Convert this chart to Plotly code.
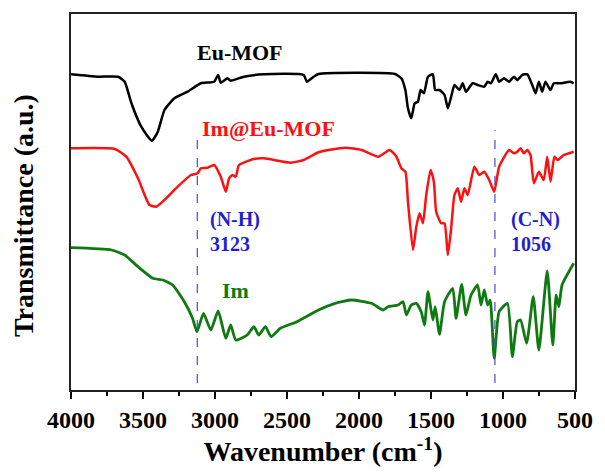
import plotly.graph_objects as go

# ---- data (wavenumber in cm^-1, transmittance in arbitrary offset units) ----
eu_wn = [4000, 3812, 3673, 3627, 3581, 3512, 3439, 3397, 3351, 3282, 3190, 3098, 3006, 2978, 2960,
         2914, 2891, 2799, 2661, 2384, 2362, 2315, 2281, 1751, 1706, 1678, 1660, 1637, 1613, 1591,
         1572, 1549, 1521, 1487, 1471, 1441, 1406, 1383, 1360, 1337, 1303, 1280, 1257, 1211, 1176,
         1130, 1107, 1084, 1050, 1027, 993, 958, 924, 901, 866, 831, 797, 774, 751, 728, 705, 670,
         647, 601, 532, 509]
eu_t = [315.7, 313.3, 313.3, 308.3, 287, 263.3, 249.3, 258.3, 280, 291.7, 298.3, 306.7, 308.3, 315, 307.3,
        311.7, 309.3, 313.3, 315.7, 315, 308.3, 313.3, 316, 316, 311.7, 300, 281.7, 271.7, 286.7, 288.3,
        300, 296.7, 313.3, 315.7, 300, 300, 295, 281.7, 293.3, 305, 300, 306.7, 298.3, 306.7, 305,
        303.3, 308.3, 306.7, 315.7, 308.3, 311.7, 308.3, 313.3, 310, 315, 315.7, 305, 296.7, 308.3, 298.3,
        308.3, 300, 306.7, 306.7, 308.3, 306.7]

im_eu_wn = [4000, 3696, 3616, 3535, 3455, 3408, 3351, 3259, 3167, 3121, 3098, 3052, 3006, 2960, 2925,
            2902, 2879, 2856, 2833, 2730, 2661, 2476, 2384, 2281, 2097, 1982, 1867, 1786, 1740, 1706,
            1678, 1660, 1625, 1602, 1579, 1556, 1533, 1503, 1480, 1464, 1429, 1406, 1383, 1360, 1337,
            1314, 1291, 1268, 1245, 1199, 1165, 1130, 1096, 1061, 1027, 958, 924, 901, 878, 855, 831,
            809, 786, 751, 717, 693, 670, 643, 620, 578, 509]
im_eu_t = [241.7, 241, 233.3, 211.7, 185, 183.3, 190, 203.3, 215, 216.7, 221.7, 222.3, 225, 213.3, 198.3,
           211.7, 215, 213.3, 225, 231, 231.7, 227.3, 230, 237.7, 242.3, 240, 233.3, 240, 233.3, 221.7,
           218.3, 188.3, 140, 163.3, 176.7, 166.7, 195, 220, 208.3, 178.3, 166.7, 166.7, 135, 161.7, 195,
           201.7, 188.3, 201.7, 195, 223.3, 215, 218.3, 210, 198.3, 223.3, 240, 236.7, 238.3, 241.7, 236.7,
           240, 235, 206.7, 218.3, 210, 233.3, 208.3, 233.3, 230, 235, 238.3]

im_wn = [4000, 3719, 3627, 3535, 3432, 3363, 3294, 3213, 3156, 3125, 3080, 3029, 2978, 2925, 2891,
         2856, 2776, 2730, 2696, 2650, 2610, 2546, 2431, 2281, 2166, 2051, 1913, 1832, 1798, 1729,
         1694, 1671, 1637, 1602, 1568, 1545, 1521, 1487, 1471, 1441, 1406, 1349, 1326, 1287, 1257,
         1222, 1176, 1153, 1130, 1107, 1089, 1061, 1027, 969, 935, 901, 878, 836, 790, 751, 693,
         654, 631, 612, 590, 509]
im_t = [142.3, 140, 135, 123.3, 111.7, 110, 105, 88.3, 71.7, 58.3, 76.7, 60, 79, 51.7, 65,
        50, 55, 63.3, 55, 63.3, 53.3, 61.7, 68.3, 80, 86.7, 90, 86.7, 80, 83.3, 85,
        88.3, 75, 85, 86.7, 78.3, 65, 98.3, 70, 83.3, 55.7, 88.3, 101.7, 71.7, 105.7, 75,
        95, 105, 85, 100, 85, 90, 31.7, 78.3, 86.7, 33.3, 68.3, 70, 46.7, 93.3, 40, 119,
        45, 95, 83.3, 105, 126.7]

marker_wn = [3123, 1056]
marker_top = [251, 260]
marker_labels = [["(N-H)", "3123"], ["(C-N)", "1056"]]
tick_vals = [4000, 3500, 3000, 2500, 2000, 1500, 1000, 500]

FONT = "Liberation Serif"
BLUE = "#1f1fd0"

fig = go.Figure()
fig.add_trace(go.Scatter(x=eu_wn, y=eu_t, mode="lines", name="Eu-MOF",
                         line=dict(color="black", width=2.5, shape="spline", smoothing=0.5)))
fig.add_trace(go.Scatter(x=im_eu_wn, y=im_eu_t, mode="lines", name="Im@Eu-MOF",
                         line=dict(color="#ff1010", width=2.5, shape="spline", smoothing=0.5)))
fig.add_trace(go.Scatter(x=im_wn, y=im_t, mode="lines", name="Im",
                         line=dict(color="#0f7a0f", width=2.8, shape="spline", smoothing=0.5)))

for wn, top in zip(marker_wn, marker_top):
    fig.add_shape(type="line", xref="x", yref="y", x0=wn, x1=wn, y0=7, y1=top,
                  line=dict(color="#4a4ad8", width=1.2, dash="dash"))

label_font = dict(family=FONT, size=22, weight="bold")
fig.add_annotation(x=2826, y=338, text="Eu-MOF", showarrow=False,
                   font=dict(label_font, color="black"))
fig.add_annotation(x=2630, y=262, text="Im@Eu-MOF", showarrow=False,
                   font=dict(label_font, color="#ff1010"))
fig.add_annotation(x=2861, y=100, text="Im", showarrow=False,
                   font=dict(label_font, color="#0f7a0f"))

ann_x = [3047, 955]
for ax_, (l1, l2) in zip(ann_x, marker_labels):
    fig.add_annotation(x=ax_, y=171, text=l1, showarrow=False, xanchor="left",
                       font=dict(family=FONT, size=20, weight="bold", color=BLUE))
    fig.add_annotation(x=ax_, y=146.5, text=l2, showarrow=False, xanchor="left",
                       font=dict(family=FONT, size=20, weight="bold", color=BLUE))

fig.add_annotation(xref="paper", yref="paper", x=0, y=0.5, xanchor="center", yanchor="middle",
                   xshift=-48, yshift=-14,
                   text="Transmittance (a.u.)", textangle=-90, showarrow=False,
                   font=dict(family=FONT, size=28, weight="bold", color="black"))

fig.update_layout(
    width=605, height=473,
    margin=dict(l=71, r=27, t=14, b=83),
    plot_bgcolor="white", paper_bgcolor="white",
    showlegend=False,
    xaxis=dict(range=[4000, 500], tickvals=tick_vals, ticks="outside", ticklen=7, tickwidth=1.5,
               tickcolor="black", showline=True, linecolor="#222", linewidth=1.5, mirror=True,
               showgrid=False, zeroline=False,
               tickfont=dict(family=FONT, size=24, weight="bold", color="black"),
               minor=dict(dtick=250, ticks="outside", ticklen=4, tickwidth=1.5, tickcolor="black"),
               title=dict(text="Wavenumber (cm<sup>-1</sup>)", standoff=6,
                          font=dict(family=FONT, size=28, weight="bold", color="black"))),
    yaxis=dict(range=[0, 376], showticklabels=False, ticks="", showline=True, linecolor="#222",
               linewidth=1.5, mirror=True, showgrid=False, zeroline=False),
)

fig.write_html("out.html")
